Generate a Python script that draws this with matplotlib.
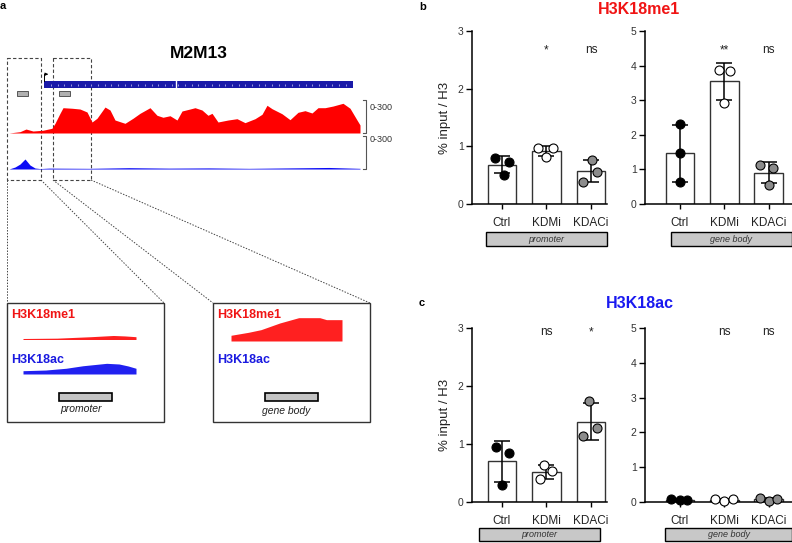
import numpy as np
import matplotlib
matplotlib.use("Agg")
import matplotlib.pyplot as plt
from matplotlib.patches import Rectangle

plt.rcParams['font.family'] = ['Liberation Sans', 'DejaVu Sans']

W, H = 792, 543

# ---- panel a: genome browser view (positions in kb along the locus, signal 0-300)
locus_len = 35.1
me1_pos = [0.0, 1.1, 1.7, 2.4, 3.4, 4.3, 4.6, 5.1, 5.4, 6.3, 7.1, 7.8, 8.3, 8.8, 9.6,
           10.1, 10.6, 11.6, 12.4, 13.1, 14.1, 14.8, 15.4, 16.1, 16.8, 17.3, 18.1, 18.6,
           19.3, 19.9, 20.3, 20.9, 21.9, 22.8, 23.6, 24.6, 25.3, 25.8, 26.3, 27.3, 28.1,
           28.9, 29.6, 30.3, 30.9, 31.6, 32.4, 33.4, 34.1, 34.8, 35.1]
me1_sig = [0, 12, 36, 18, 25, 43, 88, 179, 230, 225, 218, 191, 100, 134, 236,
           209, 118, 88, 134, 179, 230, 161, 143, 157, 118, 200, 218, 230,
           209, 161, 179, 100, 118, 130, 94, 130, 170, 252, 221, 175, 121,
           188, 203, 182, 230, 230, 245, 270, 225, 118, 73]
ac_pos = [0.0, 0.6, 1.1, 1.6, 2.1, 2.6, 3.1, 4.0, 8.0, 12.0, 16.0, 20.0, 24.0, 28.0, 32.0, 35.1]
ac_sig = [0, 18, 45, 91, 36, 9, 4, 8, 6, 12, 8, 10, 6, 10, 14, 6]
gene_start, gene_end = 3.5, 34.4
amplicons = [(0.8, 1.9), (5.0, 6.1)]

# zoomed views (position 0-1 across window)
prom_me1_pos = [0, 0.3, 0.6, 0.8, 0.9, 1.0]
prom_me1_sig = [9, 12, 25, 36, 32, 25]
prom_ac_pos = [0, 0.2, 0.38, 0.53, 0.74, 0.85, 0.93, 1.0]
prom_ac_sig = [30, 36, 52, 75, 97, 91, 73, 52]
body_me1_pos = [0, 0.157, 0.27, 0.44, 0.61, 0.8, 0.86, 1.0]
body_me1_sig = [52, 79, 103, 164, 212, 212, 194, 194]
body_ac_pos = [0, 1.0]
body_ac_sig = [4, 4]

# ---- panels b / c: ChIP-qPCR
groups = ['Ctrl', 'KDMi', 'KDACi']
me1_promoter = [[0.79, 0.73, 0.51], [0.975, 0.82, 0.975], [0.77, 0.55, 0.39]]
me1_body = [[2.30, 1.46, 0.64], [3.87, 3.85, 2.92], [1.12, 1.05, 0.55]]
ac_promoter = [[0.95, 0.845, 0.30], [0.63, 0.53, 0.40], [1.75, 1.28, 1.13]]
ac_body = [[0.10, 0.05, 0.05], [0.08, 0.03, 0.08], [0.11, 0.03, 0.08]]
sig_me1_promoter = ['', '*', 'ns']
sig_me1_body = ['', '**', 'ns']
sig_ac_promoter = ['', 'ns', '*']
sig_ac_body = ['', 'ns', 'ns']

jitter = {
    'me1_promoter': [[-0.16, 0.16, 0.04], [-0.2, -0.02, 0.15], [0.03, 0.13, -0.18]],
    'me1_body': [[0, 0, 0], [-0.13, 0.13, 0], [-0.2, 0.1, 0]],
    'ac_promoter': [[-0.13, 0.16, 0], [-0.05, 0.13, -0.15], [-0.04, 0.13, -0.17]],
    'ac_body': [[-0.2, 0, 0.16], [-0.22, 0, 0.19], [-0.19, 0, 0.19]],
}
point_colors = ['black', 'white', '#8c8c8c']


def px_axes(x0, y0, x1, y1, z=2):
    a = fig.add_axes([x0 / W, 1 - y1 / H, (x1 - x0) / W, (y1 - y0) / H])
    a.set_zorder(z)
    a.patch.set_alpha(0)
    return a


fig = plt.figure(figsize=(W / 100, H / 100), dpi=100)
ov = fig.add_axes([0, 0, 1, 1])
ov.set_xlim(0, W)
ov.set_ylim(H, 0)
ov.axis('off')
ov.set_zorder(0)

# panel letters / titles
ov.text(3, 6, 'a', fontsize=8, fontweight='bold', ha='center', va='center')
ov.text(423, 7, 'b', fontsize=8, fontweight='bold', ha='center', va='center')
ov.text(422, 303, 'c', fontsize=8, fontweight='bold', ha='center', va='center')
ov.text(199, 54, 'M2M13', fontsize=12.5, fontweight='bold', ha='center', va='center')
ov.text(639, 9, 'H3K18me1', fontsize=11.5, fontweight='bold', color='#f01414', ha='center', va='center')
ov.text(640, 303, 'H3K18ac', fontsize=11.5, fontweight='bold', color='#1a1af0', ha='center', va='center')

# dashed selection boxes and connectors
dash = dict(color='#444444', lw=0.8, ls=(0, (3, 2)))
ov.add_patch(Rectangle((6.5, 58), 34.5, 122, fill=False, **dash))
ov.add_patch(Rectangle((53, 58), 38, 122, fill=False, **dash))
dot = dict(color='#444444', lw=0.7, ls=(0, (1.5, 1.5)))
ov.plot([7, 7], [180, 303], **dot)
ov.plot([41, 164], [180, 303], **dot)
ov.plot([53, 213], [180, 303], **dot)
ov.plot([91, 370], [180, 303], **dot)

# zoom boxes
for bx in (7, 213):
    ov.add_patch(Rectangle((bx, 303), 157, 119, fill=False, ec='#333333', lw=1.0))
for x0 in (11, 217):
    ov.text(x0, 315, 'H3K18me1', fontsize=9, fontweight='bold', color='#f01414', va='center')
    ov.text(x0, 360, 'H3K18ac', fontsize=9, fontweight='bold', color='#1a1ae0', va='center')
ov.add_patch(Rectangle((59, 393), 53, 8, fc='#c4c4c4', ec='black', lw=1.2))
ov.add_patch(Rectangle((265, 393), 53, 8, fc='#c4c4c4', ec='black', lw=1.2))
ov.text(81, 409, 'promoter', fontsize=7.5, style='italic', ha='center', va='center', color='#222222')
ov.text(286, 411, 'gene body', fontsize=7.5, style='italic', ha='center', va='center', color='#222222')

# scale brackets
for top, bot, ty in ((100, 133, 108), (136, 169, 139)):
    ov.plot([363, 366, 366, 363], [top, top, bot, bot], color='#555555', lw=0.8)
    ov.text(370, ty, '0-300', fontsize=6.5, color='#333333', va='center')

# gene track
gax = px_axes(9, 70, 360, 100)
gax.set_xlim(0, locus_len)
gax.set_ylim(1, 0)
gax.axis('off')
gax.add_patch(Rectangle((gene_start, 0.36), gene_end - gene_start, 0.25, fc='#1a1aa8', ec='none'))
intron_marks = np.arange(gene_start + 0.7, gene_end - 0.3, 0.67)
gax.plot(intron_marks, np.full(len(intron_marks), 0.485),
         ls='none', marker='|', ms=1.5, mew=0.6, color='#b0b0e8')
gax.plot([16.65, 16.65], [0.36, 0.61], color='white', lw=1)
gax.plot([gene_start, gene_start], [0.36, 0.14], color='black', lw=0.7)
gax.annotate('', xy=(gene_start + 0.7, 0.14), xytext=(gene_start, 0.14),
             arrowprops=dict(arrowstyle='-|>', lw=0.7, color='black', mutation_scale=4))
for a0, a1 in amplicons:
    gax.add_patch(Rectangle((a0, 0.7), a1 - a0, 0.167, fc='#b0b0b0', ec='#555555', lw=0.7))

# signal tracks
for (y0, y1), pos, sig, col in (((100, 133), me1_pos, me1_sig, '#ff0000'),
                                ((136, 169), ac_pos, ac_sig, '#0a0af5')):
    tax = px_axes(9, y0, 360, y1)
    tax.set_xlim(0, locus_len)
    tax.set_ylim(0, 300)
    tax.axis('off')
    tax.fill_between(pos, 0, sig, color=col, lw=0)

for (x0, x1, y0, y1), pos, sig, col in (((23, 136, 306, 339.5), prom_me1_pos, prom_me1_sig, '#ff2020'),
                                        ((23, 136, 341, 374), prom_ac_pos, prom_ac_sig, '#2020f0'),
                                        ((231, 342, 308, 341), body_me1_pos, body_me1_sig, '#ff2020'),
                                        ((231, 342, 339, 372.5), body_ac_pos, body_ac_sig, '#6060f0')):
    zax = px_axes(x0, y0, x1, y1)
    zax.set_xlim(0, 1)
    zax.set_ylim(0, 300)
    zax.axis('off')
    zax.fill_between(pos, 0, sig, color=col, lw=0)


# ---- bar charts
def bar_panel(x0, y0, x1, y1, xlim, data, jit, ymax, sig, sig_y, ylabel):
    ax = px_axes(x0, y0, x1, y1, z=3)
    x = np.arange(len(groups))
    means = [np.mean(d) for d in data]
    sds = [np.std(d, ddof=1) for d in data]
    ax.bar(x, means, width=0.65, color='white', edgecolor='#333333', lw=1.0, zorder=1)
    ax.errorbar(x, means, yerr=sds, fmt='none', ecolor='black', elinewidth=1.1,
                capsize=6, capthick=1.1, zorder=2)
    for i, d in enumerate(data):
        ax.scatter(x[i] + np.array(jit[i]), d, s=42, c=point_colors[i], edgecolors='black',
                   linewidths=0.8, zorder=3, clip_on=False)
        if sig[i]:
            ax.text(x[i], sig_y, sig[i], transform=ax.get_xaxis_transform(),
                    ha='center', va='center', fontsize=8.5, color='#222222')
    ax.set_xlim(*xlim)
    ax.set_ylim(0, ymax)
    ax.set_yticks(range(ymax + 1))
    ax.set_xticks(x)
    ax.set_xticklabels(groups, fontsize=8.5, color='#222222')
    ax.tick_params(axis='y', labelsize=7.5, length=4, width=1, labelcolor='#333333', pad=2)
    ax.tick_params(axis='x', length=3.5, width=1, pad=6)
    for s in ('top', 'right'):
        ax.spines[s].set_visible(False)
    for s in ('left', 'bottom'):
        ax.spines[s].set_linewidth(1.1)
    if ylabel:
        ax.set_ylabel('% input / H3', fontsize=9.5, color='#222222', labelpad=5)
    return ax


bar_panel(472, 31, 607, 204, (-0.674, 2.36), me1_promoter, jitter['me1_promoter'], 3,
          sig_me1_promoter, 0.89, True)
bar_panel(645, 31, 792, 204, (-0.79, 2.53), me1_body, jitter['me1_body'], 5,
          sig_me1_body, 0.89, False)
bar_panel(472, 328, 607, 502, (-0.674, 2.36), ac_promoter, jitter['ac_promoter'], 3,
          sig_ac_promoter, 0.975, True)
bar_panel(645, 328, 792, 502, (-0.79, 2.53), ac_body, jitter['ac_body'], 5,
          sig_ac_body, 0.975, False)

# region boxes under the x axes
for bx0, bx1, by0, by1, lab in ((486, 607, 232, 246, 'promoter'), (671, 792, 232, 246, 'gene body'),
                                (479, 600, 528, 541, 'promoter'), (665, 792, 528, 541, 'gene body')):
    ov.add_patch(Rectangle((bx0, by0), bx1 - bx0, by1 - by0, fc='#c8c8c8', ec='black', lw=1.0, clip_on=False))
    ov.text((bx0 + bx1) / 2, (by0 + by1) / 2, lab, fontsize=6.5, style='italic',
            ha='center', va='center', color='#333333')

fig.savefig('out.png', dpi=100)
